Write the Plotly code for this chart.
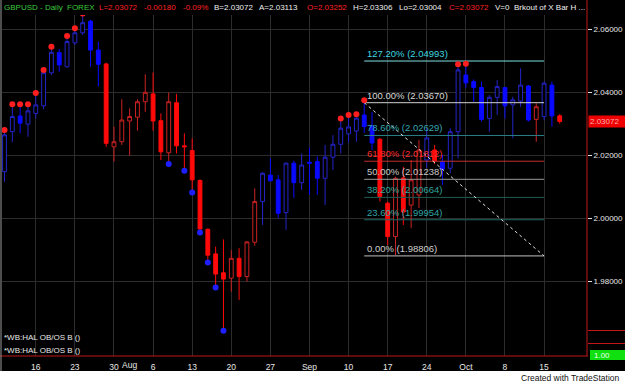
import plotly.graph_objects as go

W, H = 625, 383

# ---------------- data ----------------
bar_idx = list(range(72))  # trading days 10 Jul 2007 .. 17 Oct 2007
opens = [2.0148, 2.0275, 2.0325, 2.0299, 2.0333, 2.0357, 2.0462, 2.0526, 2.0481, 2.0557,
         2.0589, 2.0626, 2.0534, 2.0490, 2.0227, 2.0243, 2.0309, 2.0321, 2.0370, 2.0395,
         2.0310, 2.0208, 2.0367, 2.0230, 2.0215, 2.0120, 1.9965, 1.9887, 1.9827, 1.9810,
         1.9873, 1.9815, 1.9924, 2.0053, 2.0137, 2.0122, 2.0018, 2.0175, 2.0113, 2.0178,
         2.0180, 2.0127, 2.0194, 2.0235, 2.0268, 2.0277, 2.0328, 2.0293, 2.0251, 2.0048,
         1.9942, 2.0128, 2.0042, 2.0074, 2.0185, 2.0217, 2.0180, 2.0159, 2.0275, 2.0455,
         2.0434, 2.0415, 2.0317, 2.0384, 2.0415, 2.0360, 2.0372, 2.0420, 2.0314, 2.0323,
         2.0423, 2.03252]
highs = [2.0272, 2.0354, 2.0354, 2.0354, 2.0390, 2.0463, 2.0537, 2.0537, 2.0571, 2.0595,
         2.0642, 2.0630, 2.0561, 2.0494, 2.0291, 2.0378, 2.0349, 2.0378, 2.0457, 2.0463,
         2.0333, 2.0399, 2.0395, 2.0270, 2.0254, 2.0124, 1.9968, 1.9910, 1.9933, 1.9899,
         1.9905, 1.9928, 2.0095, 2.0146, 2.0190, 2.0137, 2.0177, 2.0183, 2.0206, 2.0225,
         2.0196, 2.0233, 2.0264, 2.0309, 2.0320, 2.0322, 2.0367, 2.0337, 2.0254, 2.0053,
         2.0132, 2.0163, 2.0185, 2.0249, 2.0287, 2.0233, 2.0201, 2.0286, 2.0481, 2.0483,
         2.0441, 2.0434, 2.0391, 2.0439, 2.0418, 2.0386, 2.0476, 2.0423, 2.0365, 2.0434,
         2.0434, 2.03306]
lows = [2.0116, 2.0241, 2.0270, 2.0259, 2.0317, 2.0346, 2.0455, 2.0465, 2.0479, 2.0550,
        2.0582, 2.0481, 2.0418, 2.0227, 2.0180, 2.0233, 2.0199, 2.0278, 2.0338, 2.0278,
        2.0185, 2.0180, 2.0206, 2.0159, 2.0090, 1.9963, 1.9868, 1.9788, 1.9651, 1.9767,
        1.9741, 1.9799, 1.9913, 1.9979, 2.0117, 2.0000, 1.9963, 2.0065, 2.0090, 2.0074,
        2.0074, 2.0042, 2.0153, 2.0206, 2.0240, 2.0243, 2.0271, 2.0217, 2.0053, 1.9915,
        1.9883, 1.9979, 1.9969, 2.0033, 2.0160, 2.0172, 2.0106, 2.0143, 2.0190, 2.0414,
        2.0370, 2.0307, 2.0275, 2.0328, 2.0317, 2.0254, 2.0354, 2.0307, 2.0243, 2.0312,
        2.0291, 2.03004]
closes = [2.0265, 2.0323, 2.0302, 2.0341, 2.0360, 2.0462, 2.0527, 2.0487, 2.0561, 2.0589,
          2.0621, 2.0534, 2.0489, 2.0238, 2.0243, 2.0312, 2.0323, 2.0370, 2.0400, 2.0309,
          2.0211, 2.0370, 2.0230, 2.0227, 2.0122, 1.9966, 1.9883, 1.9823, 1.9807, 1.9873,
          1.9815, 1.9925, 2.0053, 2.0143, 2.0119, 2.0016, 2.0175, 2.0113, 2.0169, 2.0175,
          2.0127, 2.0194, 2.0235, 2.0286, 2.0290, 2.0318, 2.0291, 2.0239, 2.0069, 1.9942,
          2.0127, 2.0020, 2.0122, 2.0217, 2.0255, 2.0182, 2.0156, 2.0275, 2.0471, 2.0430,
          2.0415, 2.0314, 2.0384, 2.0418, 2.0357, 2.0376, 2.0423, 2.0312, 2.0354, 2.0429,
          2.0325, 2.03072]
bar_paint = list("BBBBBBBBBBBBB" "RRRRRRRRRRRRRRRRRRRR" "BBBBBBBBBBBBBBB"
                 "RRRRRR" "B" "R" "BBBBBBBBBBBB" "R" "BB" "R")

red_dot_idx = [0, 1, 2, 3, 4, 5, 6, 8, 9, 10, 43, 44, 45, 46, 58, 59]
blue_dot_idx = [21, 23, 24, 25, 26, 27, 28]

tick_idx = [4, 9, 14, 19, 24, 29, 34, 39, 44, 49, 54, 59, 64, 69]
tick_text = ["16", "23", "30", "6", "13", "20", "27", "Sep", "10", "17", "24", "Oct", "8", "15"]
month_idx = [16]
month_text = ["Aug"]

price_ticks = [1.98, 2.00, 2.02, 2.04, 2.06]

fib_low, fib_high = 1.98806, 2.03670
fib_pcts = [127.2, 100.0, 78.6, 61.8, 50.0, 38.2, 23.6, 0.0]
fib_text_colors = ["#3fd6e0", "#d8d8d8", "#36a7b0", "#ff2a2a", "#c8c8c8", "#30a49c", "#30a4a4", "#d0d0d0"]
fib_line_colors = ["#7fe0e0", "#d0d0d0", "#2a7f86", "#c03030", "#9a9a9a", "#1f5f52", "#1f6a68", "#c0c0c0"]
fib_start, fib_end = 46, 69

last_price = 2.03072

header = [("GBPUSD - Daily", "#3cc83c", 2), ("FOREX", "#3cc83c", 65),
          ("L=2.03072", "#ff2020", 97), ("-0.00180", "#ff2020", 142), ("-0.09%", "#ff2020", 181),
          ("B=2.03072", "#f0f0f0", 212), ("A=2.03113", "#f0f0f0", 257),
          ("O=2.03252", "#ff2020", 305), ("H=2.03306", "#f0f0f0", 351),
          ("Lo=2.03004", "#f0f0f0", 397), ("C=2.03072", "#ff2020", 447),
          ("V=0", "#f0f0f0", 493), ("Brkout of X Bar H ...", "#f0f0f0", 512)]

BLUE = "#0a0aff"
BLUE_HOLLOW = "#2424c8"
RED = "#ff0a0a"
RED_HOLLOW = "#cc2222"
FONT = "Liberation Sans"

# ---------------- figure ----------------
fig = go.Figure()


def add_candles(flag, col, hollow_col):
    ids = [i for i in bar_idx if bar_paint[i] == flag]
    fig.add_trace(go.Candlestick(
        x=ids, open=[opens[i] for i in ids], high=[highs[i] for i in ids],
        low=[lows[i] for i in ids], close=[closes[i] for i in ids],
        increasing=dict(line=dict(color=hollow_col, width=1), fillcolor="black"),
        decreasing=dict(line=dict(color=col, width=1), fillcolor=col),
        whiskerwidth=0, showlegend=False, hoverinfo="skip"))


add_candles("B", BLUE, BLUE_HOLLOW)
add_candles("R", RED, RED_HOLLOW)

# fibonacci lines
fib_vals = [fib_low + p / 100.0 * (fib_high - fib_low) for p in fib_pcts]
for v, lc in zip(fib_vals, fib_line_colors):
    fig.add_trace(go.Scatter(x=[fib_start, fib_end], y=[v, v], mode="lines",
                             line=dict(color=lc, width=1), showlegend=False, hoverinfo="skip"))
fig.add_trace(go.Scatter(x=[fib_start, fib_end], y=[fib_high, fib_low], mode="lines",
                         line=dict(color="#e0e0e0", width=1, dash="dot"),
                         showlegend=False, hoverinfo="skip"))

# indicator dots
fig.add_trace(go.Scatter(x=red_dot_idx, y=[highs[i] + 0.0008 for i in red_dot_idx], mode="markers",
                         marker=dict(color="#ff1e1e", size=6), showlegend=False, hoverinfo="skip"))
fig.add_trace(go.Scatter(x=blue_dot_idx, y=[lows[i] - 0.0008 for i in blue_dot_idx], mode="markers",
                         marker=dict(color="#1e1eff", size=6), showlegend=False, hoverinfo="skip"))

ann = []
for p, v, tc in zip(fib_pcts, fib_vals, fib_text_colors):
    ann.append(dict(x=fib_start, y=v, xref="x", yref="y", xanchor="left", yanchor="bottom",
                    xshift=1, yshift=0, showarrow=False, text=f"{p:.2f}% ({v:.5f})",
                    font=dict(family=FONT, size=9.5, color=tc)))

for t, c, px in header:
    ann.append(dict(x=px / W, y=1 - 7.5 / H, xref="paper", yref="paper", xanchor="left",
                    yanchor="middle", showarrow=False, text=t,
                    font=dict(family=FONT, size=8, color=c)))

for i, t in zip(month_idx, month_text):
    ann.append(dict(x=i, y=1 - 365 / H, xref="x", yref="paper", xanchor="center", yanchor="middle",
                    showarrow=False, text=t, font=dict(family=FONT, size=8.5, color="#e8e8e8")))

for py in (337, 350):
    ann.append(dict(x=2 / W, y=1 - py / H, xref="paper", yref="paper", xanchor="left", yanchor="middle",
                    showarrow=False, text="*WB:HAL OB/OS B ()",
                    font=dict(family=FONT, size=8, color="#e8e8e8")))

ann.append(dict(x=588 / W, y=last_price, xref="paper", yref="y", xanchor="left", yanchor="middle",
                showarrow=False, text=f"{last_price:.5f}", bgcolor="#ee0000", borderpad=1,
                width=35, align="left", font=dict(family=FONT, size=8, color="#ffb0b0")))
ann.append(dict(x=592 / W, y=1 - 355 / H, xref="paper", yref="paper", xanchor="left", yanchor="middle",
                showarrow=False, text="1.00", font=dict(family=FONT, size=8, color="#f0fff0")))
ann.append(dict(x=622 / W, y=1 - 377.5 / H, xref="paper", yref="paper", xanchor="right", yanchor="middle",
                showarrow=False, text="Created with TradeStation",
                font=dict(family=FONT, size=8.5, color="#111111")))

shapes = [
    dict(type="rect", xref="paper", yref="paper", x0=0, x1=1, y0=0, y1=1 - 371 / H,
         fillcolor="white", line=dict(width=0), layer="above"),
    dict(type="line", xref="paper", yref="paper", x0=587 / W, x1=587 / W, y0=1 - 356 / H, y1=1,
         line=dict(color="#c01818", width=1)),
    dict(type="line", xref="paper", yref="paper", x0=0, x1=588 / W, y0=1 - 356 / H, y1=1 - 356 / H,
         line=dict(color="#c01818", width=1)),
    dict(type="line", xref="paper", yref="paper", x0=588 / W, x1=1, y0=1 - 330.5 / H, y1=1 - 330.5 / H,
         line=dict(color="#c01818", width=1)),
    dict(type="line", xref="paper", yref="paper", x0=588 / W, x1=1, y0=1 - 343.5 / H, y1=1 - 343.5 / H,
         line=dict(color="#c01818", width=1)),
    dict(type="rect", xref="paper", yref="paper", x0=590 / W, x1=1, y0=1 - 360 / H, y1=1 - 350 / H,
         fillcolor="#10e010", line=dict(width=0), layer="below"),
    dict(type="line", xref="paper", yref="paper", x0=1 / W, x1=1 / W, y0=1 - 371 / H, y1=1,
         line=dict(color="#9a9a9a", width=1)),
]

# x mapping: 7.82 px per bar, bar 0 centred at x=4.5px
px_per_bar = 7.82
x0 = -(4.5 - 2) / px_per_bar
x1 = x0 + 585 / px_per_bar
# y mapping: 2.04 at 92.3px, 3150 px per unit
y_top = 2.04 + (92.3 - 15) / 3150
y_bot = 2.04 - (356 - 92.3) / 3150

fig.update_layout(
    width=W, height=H, margin=dict(l=0, r=0, t=0, b=0),
    paper_bgcolor="black", plot_bgcolor="black", showlegend=False,
    annotations=ann, shapes=shapes,
    xaxis=dict(domain=[2 / W, 587 / W], range=[x0, x1], tickmode="array", tickvals=tick_idx,
               ticktext=tick_text, showgrid=True, gridcolor="#2c2c2c", gridwidth=1, zeroline=False,
               showline=False, ticks="outside", ticklen=3, tickcolor="rgba(0,0,0,0)",
               rangeslider=dict(visible=False),
               tickfont=dict(family=FONT, size=8.5, color="#e8e8e8")),
    yaxis=dict(domain=[1 - 356 / H, 1 - 15 / H], range=[y_bot, y_top], side="right",
               tickmode="array", tickvals=price_ticks, tickformat=".5f",
               showgrid=True, gridcolor="#2c2c2c", gridwidth=1, zeroline=False, showline=False,
               ticks="outside", ticklen=4, tickcolor="#e0e0e0",
               tickfont=dict(family=FONT, size=8, color="#e8e8e8")),
)

fig.write_html("out.html")
